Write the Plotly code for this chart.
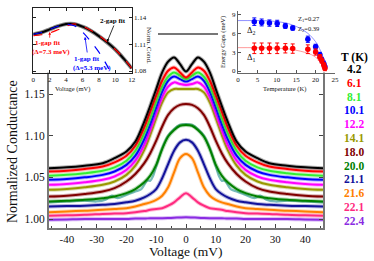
import plotly.graph_objects as go

FONT = "Liberation Serif, Times New Roman, serif"

# ---------------- main panel data ----------------
V = [-46, -40, -34, -28, -24, -20, -17, -14, -12, -10, -8, -6, -4, -2, 0,
     2, 4, 6, 8, 10, 12, 14, 17, 20, 24, 28, 34, 40, 46]

temps = ["4.2", "6.1", "8.1", "10.1", "12.2", "14.1", "18.0", "20.0", "21.1", "21.6", "22.1", "22.4"]

g_4_2 = [1.061, 1.062, 1.064, 1.067, 1.073, 1.081, 1.093, 1.117, 1.136, 1.156, 1.176, 1.189, 1.194, 1.186, 1.177,
         1.186, 1.194, 1.189, 1.176, 1.156, 1.136, 1.117, 1.093, 1.081, 1.073, 1.067, 1.064, 1.062, 1.061]
g_6_1 = [1.057, 1.058, 1.060, 1.063, 1.068, 1.076, 1.088, 1.110, 1.129, 1.148, 1.166, 1.178, 1.182, 1.176, 1.170,
         1.176, 1.182, 1.178, 1.166, 1.148, 1.129, 1.110, 1.088, 1.076, 1.068, 1.063, 1.060, 1.058, 1.057]
g_8_1 = [1.052, 1.053, 1.055, 1.058, 1.062, 1.070, 1.082, 1.103, 1.121, 1.141, 1.159, 1.171, 1.176, 1.172, 1.168,
         1.172, 1.176, 1.171, 1.159, 1.141, 1.121, 1.103, 1.082, 1.070, 1.062, 1.058, 1.055, 1.053, 1.052]
g_10_1 = [1.047, 1.048, 1.050, 1.053, 1.057, 1.065, 1.076, 1.096, 1.114, 1.134, 1.153, 1.166, 1.171, 1.168, 1.165,
          1.168, 1.171, 1.166, 1.153, 1.134, 1.114, 1.096, 1.076, 1.065, 1.057, 1.053, 1.050, 1.048, 1.047]
g_12_2 = [1.041, 1.042, 1.044, 1.047, 1.051, 1.059, 1.070, 1.089, 1.107, 1.127, 1.146, 1.159, 1.164, 1.162, 1.161,
          1.162, 1.164, 1.159, 1.146, 1.127, 1.107, 1.089, 1.070, 1.059, 1.051, 1.047, 1.044, 1.042, 1.041]
g_14_1 = [1.035, 1.036, 1.038, 1.041, 1.045, 1.053, 1.064, 1.083, 1.101, 1.121, 1.140, 1.152, 1.156, 1.156, 1.156,
          1.156, 1.156, 1.152, 1.140, 1.121, 1.101, 1.083, 1.064, 1.053, 1.045, 1.041, 1.038, 1.036, 1.035]
g_18_0 = [1.027, 1.028, 1.030, 1.033, 1.037, 1.045, 1.054, 1.067, 1.079, 1.094, 1.111, 1.125, 1.133, 1.137, 1.138,
          1.137, 1.133, 1.125, 1.111, 1.094, 1.079, 1.067, 1.054, 1.045, 1.037, 1.033, 1.030, 1.028, 1.027]
g_20_0 = [1.021, 1.022, 1.023, 1.025, 1.027, 1.031, 1.036, 1.044, 1.052, 1.065, 1.084, 1.099, 1.107, 1.112, 1.113,
          1.112, 1.107, 1.099, 1.084, 1.065, 1.052, 1.044, 1.036, 1.031, 1.027, 1.025, 1.023, 1.022, 1.021]
g_21_1 = [1.015, 1.0155, 1.016, 1.017, 1.018, 1.020, 1.022, 1.026, 1.030, 1.036, 1.049, 1.066, 1.082, 1.092, 1.095,
          1.092, 1.082, 1.066, 1.049, 1.036, 1.030, 1.026, 1.022, 1.020, 1.018, 1.017, 1.016, 1.0155, 1.015]
g_21_6 = [1.008, 1.009, 1.010, 1.011, 1.012, 1.013, 1.015, 1.018, 1.020, 1.023, 1.028, 1.038, 1.056, 1.073, 1.078,
          1.073, 1.056, 1.038, 1.028, 1.023, 1.020, 1.018, 1.015, 1.013, 1.012, 1.011, 1.010, 1.009, 1.008]
g_22_1 = [1.004, 1.0045, 1.005, 1.006, 1.0065, 1.007, 1.008, 1.0095, 1.011, 1.012, 1.013, 1.016, 1.020, 1.026, 1.031,
          1.026, 1.020, 1.016, 1.013, 1.012, 1.011, 1.0095, 1.008, 1.007, 1.0065, 1.006, 1.005, 1.0045, 1.004]
g_22_4 = [0.999, 0.9995, 1.000, 1.000, 1.000, 1.000, 1.0005, 1.0005, 1.001, 1.001, 1.001, 1.0012, 1.0015, 1.0018, 1.002,
          1.0018, 1.0015, 1.0012, 1.001, 1.001, 1.001, 1.0005, 1.0005, 1.000, 1.000, 1.000, 1.000, 0.9995, 0.999]

# measured 20.0 K data (teal circles) that wiggle around the fit
V_teal = [-46, -40, -34, -30, -27, -25, -23, -20, -17, -15, -13, -12, -11, -10, -8, -6, -4, -2, 0,
          2, 4, 6, 8, 10, 11, 12, 13, 15, 17, 20, 23, 25, 27, 30, 34, 40, 46]
g_teal = [1.020, 1.021, 1.022, 1.021, 1.023, 1.028, 1.025, 1.029, 1.033, 1.036, 1.046, 1.046, 1.052, 1.063, 1.085, 1.100, 1.108, 1.113, 1.114,
          1.113, 1.108, 1.100, 1.085, 1.063, 1.052, 1.046, 1.046, 1.036, 1.033, 1.029, 1.025, 1.028, 1.023, 1.021, 1.022, 1.021, 1.020]

curves = [g_4_2, g_6_1, g_8_1, g_10_1, g_12_2, g_14_1, g_18_0, g_20_0, g_21_1, g_21_6, g_22_1, g_22_4]
colors = ["#000000", "#ff0000", "#33ee33", "#0000ff", "#ff00ff", "#999900",
          "#800000", "#008000", "#12129a", "#ff8000", "#ff2a7f", "#8a2be2"]

# ---------------- inset 1 (fit comparison) ----------------
V_in = [0, 1, 2, 3, 4, 5, 6, 7, 8, 9, 10, 11, 12]
g_2gap = [1.121, 1.123, 1.1265, 1.130, 1.1325, 1.1325, 1.1295, 1.125, 1.119, 1.112, 1.104, 1.094, 1.083]
g_1gap_73 = [1.1195, 1.1205, 1.1225, 1.126, 1.130, 1.1325, 1.130, 1.1255, 1.1195, 1.1125, 1.104, 1.0945, 1.083]
V_in_b = [0, 1, 2, 3, 4, 5, 6, 7, 8, 9, 9.4]
g_1gap_53 = [1.121, 1.123, 1.1265, 1.130, 1.132, 1.1305, 1.1235, 1.113, 1.101, 1.086, 1.078]

# ---------------- inset 2 (gaps vs T) ----------------
T_pts = [4.2, 6.1, 8.1, 10.1, 12.2, 14.1, 18.0, 20.0, 21.1, 21.6, 22.1, 22.4]
delta2 = [7.93, 7.8, 7.7, 7.65, 7.25, 6.9, 5.1, 3.9, 2.6, 1.8, 1.2, 0.7]
delta2_err = [0.6, 0.55, 0.5, 0.5, 0.4, 0.35, 0.5, 0.4, 0.4, 0.4, 0.4, 0.4]
delta1 = [3.65, 3.65, 3.65, 3.65, 3.65, 3.6, 3.5, 3.05, 2.2, 1.65, 0.95, 0.45]
delta1_err = [0.85, 0.85, 0.85, 0.85, 0.75, 0.75, 0.7, 0.5, 0.45, 0.4, 0.4, 0.4]
T_fit = [0, 4, 8, 12, 14, 16, 18, 19, 20, 21, 21.5, 22, 22.3, 22.6]
fit2 = [8.1, 8.1, 8.05, 7.75, 7.4, 6.85, 6.05, 5.45, 4.7, 3.6, 2.9, 1.95, 1.15, 0]
fit1 = [3.75, 3.75, 3.72, 3.6, 3.45, 3.2, 2.85, 2.6, 2.2, 1.7, 1.35, 0.9, 0.5, 0]

xticks_main = [-40, -30, -20, -10, 0, 10, 20, 30, 40]
yticks_main = [1.00, 1.05, 1.10, 1.15]

fig = go.Figure()

# main panel
fig.add_trace(go.Scatter(x=V_teal, y=g_teal, mode="lines", line=dict(color="#5fb0b0", width=2.2, shape="spline"),
                         opacity=0.85, showlegend=False, xaxis="x", yaxis="y"))
for i in range(len(curves) - 1, -1, -1):
    fig.add_trace(go.Scatter(x=V, y=curves[i], mode="lines",
                             line=dict(color=colors[i], width=4, shape="spline"), opacity=0.3,
                             showlegend=False, xaxis="x", yaxis="y"))
    fig.add_trace(go.Scatter(x=V, y=curves[i], mode="lines",
                             line=dict(color=colors[i], width=2, shape="spline"),
                             showlegend=False, xaxis="x", yaxis="y"))

# inset 1
fig.add_trace(go.Scatter(x=V_in, y=g_2gap, mode="lines", line=dict(color="#888888", width=4, shape="spline"),
                         showlegend=False, xaxis="x2", yaxis="y2"))
fig.add_trace(go.Scatter(x=V_in, y=g_2gap, mode="lines", line=dict(color="#000000", width=2, shape="spline"),
                         showlegend=False, xaxis="x2", yaxis="y2"))
fig.add_trace(go.Scatter(x=V_in, y=g_1gap_73, mode="lines",
                         line=dict(color="#ff0000", width=1.2, dash="dash", shape="spline"),
                         showlegend=False, xaxis="x2", yaxis="y2"))
fig.add_trace(go.Scatter(x=V_in_b, y=g_1gap_53, mode="lines",
                         line=dict(color="#0000ff", width=1.2, dash="dash", shape="spline"),
                         showlegend=False, xaxis="x2", yaxis="y2"))

# inset 2
fig.add_trace(go.Scatter(x=T_fit, y=fit2, mode="lines", line=dict(color="#8f8fff", width=1, shape="spline"),
                         showlegend=False, xaxis="x3", yaxis="y3"))
fig.add_trace(go.Scatter(x=T_fit, y=fit1, mode="lines", line=dict(color="#ff9a9a", width=1, shape="spline"),
                         showlegend=False, xaxis="x3", yaxis="y3"))
fig.add_trace(go.Scatter(x=T_pts, y=delta2, mode="markers",
                         marker=dict(color="#0000ff", size=5.5),
                         error_y=dict(type="data", array=delta2_err, color="#0000ff", thickness=1, width=2),
                         showlegend=False, xaxis="x3", yaxis="y3"))
fig.add_trace(go.Scatter(x=T_pts, y=delta1, mode="markers",
                         marker=dict(color="#ff0000", size=5.5),
                         error_y=dict(type="data", array=delta1_err, color="#ff0000", thickness=1, width=2),
                         showlegend=False, xaxis="x3", yaxis="y3"))

W, H = 374, 261
ML, MR, MT, MB = 33, 38, 8, 33
PW, PH = W - ML - MR, H - MT - MB


def px(xp):
    return (xp - ML) / PW


def py(yp):
    return (H - MB - yp) / PH


axis_col = "#777777"
tf = dict(family=FONT, size=11, color="#111")
small = dict(family=FONT, size=7, color="#111")

fig.update_layout(
    width=W, height=H,
    margin=dict(l=ML, r=MR, t=MT, b=MB, pad=0, autoexpand=False),
    paper_bgcolor="white", plot_bgcolor="white",
    font=dict(family=FONT, color="#111"),
    xaxis=dict(domain=[px(49), px(323)], range=[-46, 46], anchor="y", automargin=False,
               tickmode="array", tickvals=xticks_main, ticktext=[str(v) for v in xticks_main],
               ticks="inside", ticklen=4, tickwidth=1, tickcolor="#444",
               minor=dict(tickvals=[-45, -35, -25, -15, -5, 5, 15, 25, 35, 45], ticks="inside", ticklen=2.5,
                          tickcolor="#444"),
               showline=True, linecolor=axis_col, linewidth=2, mirror=False, showgrid=False, zeroline=False,
               tickfont=tf),
    yaxis=dict(domain=[0, py(34)], range=[0.9892, 1.2221], anchor="x", automargin=False,
               tickmode="array", tickvals=yticks_main, ticktext=["%.2f" % v for v in yticks_main],
               ticks="inside", ticklen=4, tickwidth=1, tickcolor="#444",
               showline=True, linecolor=axis_col, linewidth=2, mirror="ticks", showgrid=False, zeroline=False,
               tickfont=dict(family=FONT, size=11.5, color="#111")),
    xaxis2=dict(domain=[px(33.3), px(131.7)], range=[0, 12], anchor="y2", dtick=2, automargin=False,
                ticks="inside", ticklen=2.5, tickcolor="#222", showline=True, linecolor="#222", linewidth=1,
                mirror="ticks", showgrid=False, zeroline=False, tickfont=small),
    yaxis2=dict(domain=[py(72.7), py(8.3)], range=[1.0781, 1.150], anchor="x2", side="right", automargin=False,
                tickmode="array", tickvals=[1.08, 1.11, 1.14], ticktext=["1.08", "1.11", "1.14"],
                ticks="inside", ticklen=2.5, tickcolor="#222", showline=True, linecolor="#222", linewidth=1,
                mirror="ticks", showgrid=False, zeroline=False, tickfont=small),
    xaxis3=dict(domain=[px(238), px(335)], range=[0, 25], anchor="y3", dtick=5, automargin=False,
                ticks="inside", ticklen=2.5, tickcolor="#555", showline=True, linecolor="#666", linewidth=1,
                showgrid=False, zeroline=False, tickfont=small),
    yaxis3=dict(domain=[py(72.5), py(11)], range=[-0.24, 9.64], anchor="x3", automargin=False,
                tickmode="array", tickvals=[0, 3, 6, 9], ticktext=["0", "3", "6", "9"],
                ticks="inside", ticklen=2.5, tickcolor="#555", showline=True, linecolor="#666", linewidth=1,
                showgrid=False, zeroline=False, tickfont=small),
)

# partial top frame of the main panel (between the insets)
fig.add_shape(type="line", xref="x domain", yref="y domain", x0=(158 - 49) / 274, x1=(218 - 49) / 274,
              y0=1, y1=1, line=dict(color=axis_col, width=2))

ann = []
# axis titles
ann.append(dict(xref="paper", yref="paper", x=px(186), y=py(251.5), text="Voltage (mV)", showarrow=False,
                font=dict(family=FONT, size=13.5, color="#111"), xanchor="center", yanchor="middle"))
ann.append(dict(xref="paper", yref="paper", x=px(12), y=py(152), text="Normalized Conductance", textangle=-90,
                showarrow=False, font=dict(family=FONT, size=14, color="#111"), xanchor="center", yanchor="middle"))
ann.append(dict(xref="paper", yref="paper", x=px(72), y=py(89), text="Voltage (mV)", showarrow=False,
                font=dict(family=FONT, size=6.5, color="#111"), xanchor="center", yanchor="middle"))
ann.append(dict(xref="paper", yref="paper", x=px(149), y=py(45), text="Norm. Cond.", textangle=90,
                showarrow=False, font=dict(family=FONT, size=7, color="#111"), xanchor="center", yanchor="middle"))
ann.append(dict(xref="paper", yref="paper", x=px(284), y=py(89), text="Temperature (K)", showarrow=False,
                font=dict(family=FONT, size=6.5, color="#111"), xanchor="center", yanchor="middle"))
ann.append(dict(xref="paper", yref="paper", x=px(223), y=py(42), text="Energy Gaps (meV)", textangle=-90,
                showarrow=False, font=dict(family=FONT, size=6.5, color="#111"), xanchor="center", yanchor="middle"))

# legend column
ann.append(dict(xref="paper", yref="paper", x=px(354), y=py(57), text="<b>T (K)</b>", showarrow=False,
                font=dict(family=FONT, size=11.5, color="#000"), xanchor="center", yanchor="middle"))
for i, t in enumerate(temps):
    ann.append(dict(xref="paper", yref="paper", x=px(354), y=py(69 + 13.8 * i), text="<b>%s</b>" % t,
                    showarrow=False, font=dict(family=FONT, size=11.5, color=colors[i]),
                    xanchor="center", yanchor="middle"))

# inset 1 labels
ann.append(dict(xref="x2", yref="y2", x=9.7, y=1.1362, text="<b>2-gap fit</b>", showarrow=False,
                font=dict(family=FONT, size=7, color="#000")))
ann.append(dict(xref="x2", yref="y2", x=9.0, y=1.1125, axref="x2", ayref="y2", ax=9.9, ay=1.1325, text="",
                showarrow=True, arrowhead=2, arrowsize=0.7, arrowwidth=0.8, arrowcolor="#000"))
ann.append(dict(xref="x2", yref="y2", x=1.85, y=1.1116, text="<b>1-gap fit</b>", showarrow=False,
                font=dict(family=FONT, size=7, color="#ff0000")))
ann.append(dict(xref="x2", yref="y2", x=2.15, y=1.1016, text="<b>(Δ=7.3 meV)</b>", showarrow=False,
                font=dict(family=FONT, size=7, color="#ff0000")))
ann.append(dict(xref="x2", yref="y2", x=2.0, y=1.1235, axref="x2", ayref="y2", ax=2.0, ay=1.1155, text="",
                showarrow=True, arrowhead=2, arrowsize=0.7, arrowwidth=0.8, arrowcolor="#ff0000"))
ann.append(dict(xref="x2", yref="y2", x=6.5, y=1.093, text="<b>1-gap fit</b>", showarrow=False,
                font=dict(family=FONT, size=7, color="#0000ff")))
ann.append(dict(xref="x2", yref="y2", x=7.1, y=1.0834, text="<b>(Δ=5.3 meV)</b>", showarrow=False,
                font=dict(family=FONT, size=7, color="#0000ff")))
ann.append(dict(xref="x2", yref="y2", x=6.3, y=1.118, axref="x2", ayref="y2", ax=6.6, ay=1.099, text="",
                showarrow=True, arrowhead=2, arrowsize=0.7, arrowwidth=0.8, arrowcolor="#0000ff"))

# inset 2 labels
ann.append(dict(xref="x3", yref="y3", x=18.2, y=8.4, text="Z<sub>1</sub>=0.27", showarrow=False,
                font=dict(family=FONT, size=6.5, color="#111")))
ann.append(dict(xref="x3", yref="y3", x=18.2, y=6.8, text="Z<sub>2</sub>=0.39", showarrow=False,
                font=dict(family=FONT, size=6.5, color="#111")))
ann.append(dict(xref="x3", yref="y3", x=3.3, y=6.5, text="Δ<sub>2</sub>", showarrow=False,
                font=dict(family=FONT, size=8.5, color="#111")))
ann.append(dict(xref="x3", yref="y3", x=3.3, y=2.1, text="Δ<sub>1</sub>", showarrow=False,
                font=dict(family=FONT, size=8.5, color="#111")))

fig.update_layout(annotations=ann)
fig.write_html("out.html", config={"displayModeBar": False},
               post_script="document.body.style.margin='0px';document.body.style.overflow='hidden';")
